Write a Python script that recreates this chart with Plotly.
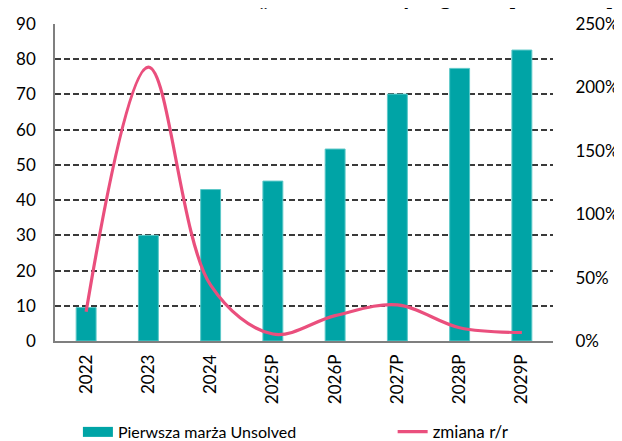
import plotly.graph_objects as go

categories = ["2022", "2023", "2024", "2025P", "2026P", "2027P", "2028P", "2029P"]
margin_values = [9.5, 30.0, 43.0, 45.4, 54.5, 70.1, 77.4, 82.6]
yoy_change = [0.23, 2.16, 0.44, 0.055, 0.20, 0.285, 0.105, 0.067]

left_ticks = [0, 10, 20, 30, 40, 50, 60, 70, 80, 90]
right_ticks = [0, 0.5, 1.0, 1.5, 2.0, 2.5]

title_text = "Pierwsza marża „Unsolved” – prognoza [mln PLN]"

FONT = "Lato, 'Open Sans', sans-serif"
TEAL = "#00A4A6"

fig = go.Figure()
fig.add_trace(go.Bar(
    x=categories, y=margin_values, name="Pierwsza marża Unsolved",
    marker=dict(color=TEAL, line=dict(color="#5CC8C8", width=1)),
    width=0.32, yaxis="y", showlegend=False,
))
# legend-only entry so the bar key is drawn as a wide rectangle
fig.add_trace(go.Scatter(
    x=[None], y=[None], name="Pierwsza marża Unsolved", mode="lines",
    line=dict(color=TEAL, width=12), yaxis="y", legend="legend",
))
fig.add_trace(go.Scatter(
    x=categories, y=yoy_change, name="zmiana r/r", mode="lines",
    line=dict(color="#EA4F7D", width=3.2, shape="spline", smoothing=1.0),
    yaxis="y2", legend="legend2",
))

legend_common = dict(orientation="h", xanchor="left", y=-0.287, yanchor="middle",
                     font=dict(size=16), bgcolor="rgba(0,0,0,0)")

fig.update_layout(
    width=614, height=433,
    margin=dict(l=47, r=69, t=16, b=100, autoexpand=False),
    paper_bgcolor="white", plot_bgcolor="white",
    font=dict(family=FONT, size=16, color="#000000"),
    showlegend=True,
    legend=dict(x=0.046, **legend_common),
    legend2=dict(x=0.678, font=dict(size=17), **{k: v for k, v in legend_common.items() if k != "font"}),
    xaxis=dict(
        type="category", tickangle=-90, showgrid=False, automargin=False,
        showline=True, linecolor="#7F7F7F", linewidth=1.5,
        ticks="outside", ticklen=5, tickcolor="rgba(0,0,0,0)",
        tickfont=dict(size=17),
    ),
    yaxis=dict(
        range=[0, 90], tickvals=left_ticks, showgrid=True, automargin=False,
        gridcolor="#3A3A3A", gridwidth=1.6, griddash="6px,3px",
        showline=True, linecolor="#7F7F7F", linewidth=1.5,
        zeroline=False,
        ticks="outside", ticklen=14, tickcolor="rgba(0,0,0,0)",
        tickfont=dict(size=17),
    ),
    yaxis2=dict(
        range=[0, 2.5], tickvals=right_ticks, tickformat=".0%", automargin=False,
        overlaying="y", side="right", showgrid=False, zeroline=False,
        showline=False,
        ticks="outside", ticklen=18, tickcolor="rgba(0,0,0,0)",
        tickfont=dict(size=17),
    ),
    annotations=[dict(
        text=title_text, xref="paper", yref="paper", x=1.1265, y=1,
        xanchor="right", yanchor="bottom", yshift=12, showarrow=False,
        font=dict(size=24, family=FONT, color="#000000", weight="bold"),
    )],
)

fig.write_html("out.html")
